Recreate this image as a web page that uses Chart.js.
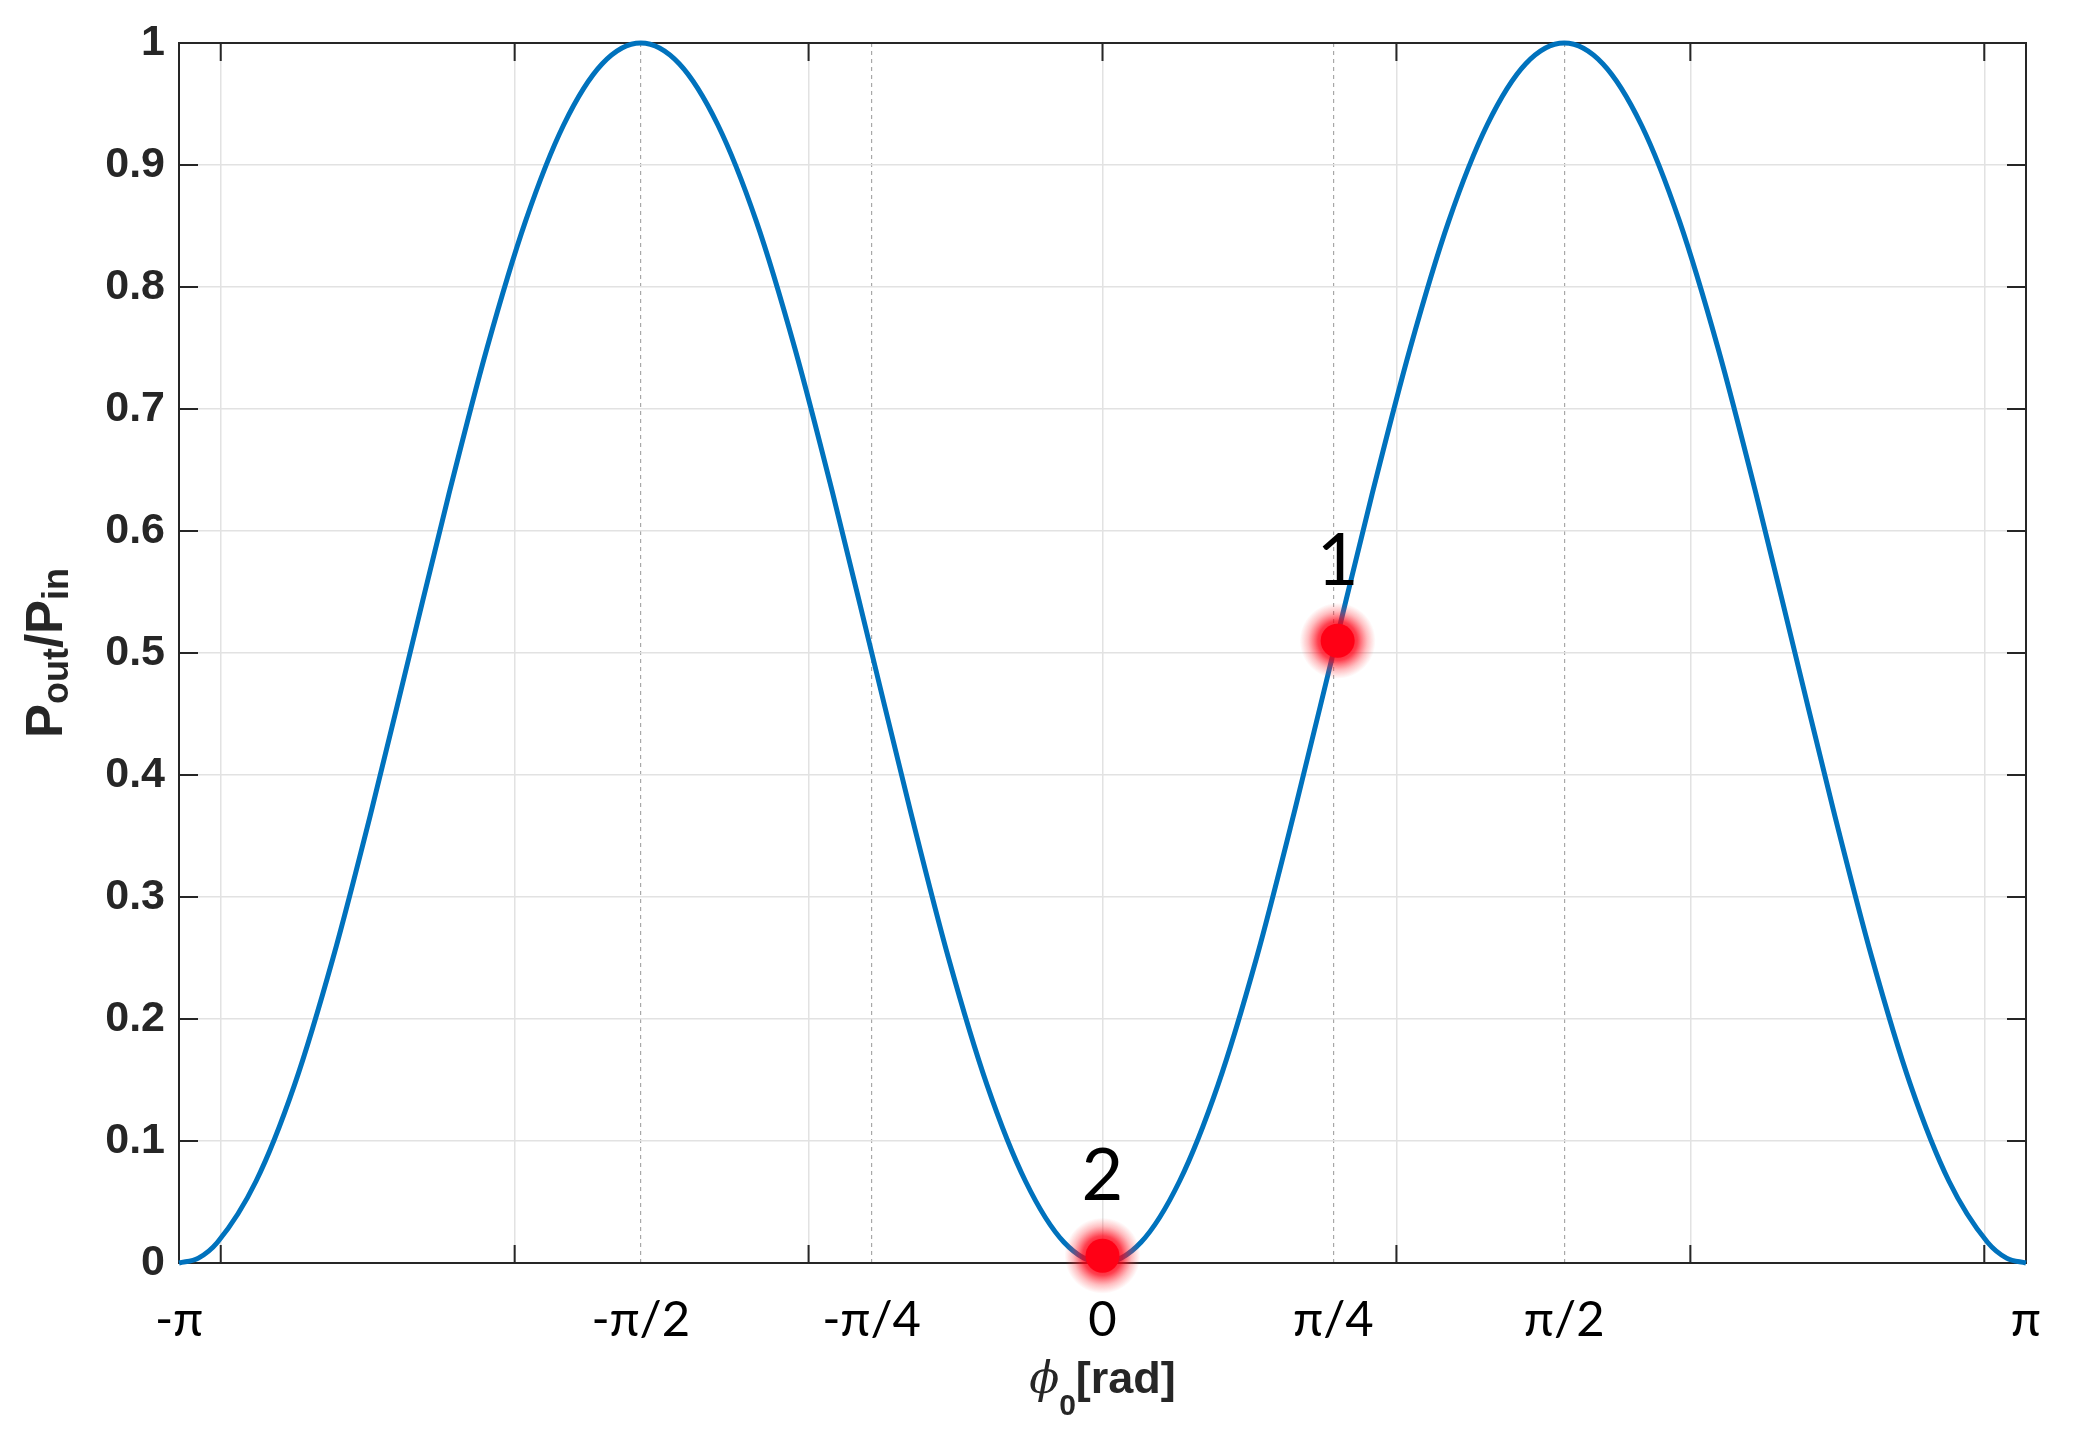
<!DOCTYPE html>
<html>
<head>
<meta charset="utf-8">
<title>Pout/Pin vs phase</title>
<script src="https://cdn.jsdelivr.net/npm/chart.js@4.4.1/dist/chart.umd.min.js"></script>
<style>
  html, body { margin: 0; padding: 0; background: #fff; }
  #wrap { width: 2076px; height: 1436px; }
</style>
</head>
<body>
<div id="wrap"><canvas id="phaseChart" width="2076" height="1436"></canvas></div>
<script>
// phase (rad) and the read-off transmission values
const phase = [
  -3.142, -3.076, -3.011, -2.880, -2.749, -2.618, -2.487, -2.356, -2.225, -2.094, -1.963, -1.833, -1.702,
  -1.571, -1.440, -1.309, -1.178, -1.047, -0.916, -0.785, -0.654, -0.524, -0.393, -0.262, -0.131,
  0,
  0.131, 0.262, 0.393, 0.524, 0.654, 0.785, 0.916, 1.047, 1.178, 1.309, 1.440,
  1.571, 1.702, 1.833, 1.963, 2.094, 2.225, 2.356, 2.487, 2.618, 2.749, 2.880, 3.011, 3.076, 3.142
]
const powerRatio = [
  0, 0.004, 0.017, 0.067, 0.146, 0.25, 0.371, 0.50, 0.629, 0.75, 0.854, 0.933, 0.983,
  1.00, 0.983, 0.933, 0.854, 0.75, 0.629, 0.50, 0.371, 0.25, 0.146, 0.067, 0.017,
  0,
  0.017, 0.067, 0.146, 0.25, 0.371, 0.50, 0.629, 0.75, 0.854, 0.933, 0.983,
  1.00, 0.983, 0.933, 0.854, 0.75, 0.629, 0.50, 0.371, 0.25, 0.146, 0.067, 0.017, 0.004, 0
]

// operating points
const markerPhase = [0.80, 0]
const markerRatio = [0.51, 0.006]
const markerLabels = ["1", "2"]

// axis ticks
const gridTicks = [-3, -2, -1, 0, 1, 2, 3]
const piTickValues = [-3.1416, -1.5708, -0.7854, 0, 0.7854, 1.5708, 3.1416]
const piTickLabels = ["-\u03C0", "-\u03C0/2", "-\u03C0/4", "0", "\u03C0/4", "\u03C0/2", "\u03C0"]
const piDashed = [false, true, true, false, true, true, false]

const AXIS_COLOR = "#262626"
const GRID_COLOR = "#e2e2e2"
const SANS = "'Liberation Sans', Arial, sans-serif"

function drawRuns(ctx, runs, x, y){
  let total = 0
  runs.forEach(r => { ctx.font = r.font; total += ctx.measureText(r.text).width })
  let cx = x - total / 2
  runs.forEach(r => {
    ctx.font = r.font
    ctx.fillText(r.text, cx, y + (r.dy || 0))
    cx += ctx.measureText(r.text).width
  })
}

const framePlugin = {
  id: "frame",
  beforeDatasetsDraw(chart){
    const { ctx, chartArea: a, scales } = chart
    ctx.save()
    ctx.strokeStyle = AXIS_COLOR
    ctx.lineWidth = 2
    ctx.strokeRect(a.left, a.top, a.width, a.height)
    ctx.beginPath()
    scales.x.ticks.forEach(t => {
      const px = scales.x.getPixelForValue(t.value)
      ctx.moveTo(px, a.bottom); ctx.lineTo(px, a.bottom - 18)
      ctx.moveTo(px, a.top); ctx.lineTo(px, a.top + 18)
    })
    scales.y.ticks.forEach(t => {
      const py = scales.y.getPixelForValue(t.value)
      ctx.moveTo(a.left, py); ctx.lineTo(a.left + 19, py)
      ctx.moveTo(a.right, py); ctx.lineTo(a.right - 19, py)
    })
    ctx.stroke()
    ctx.restore()
  }
}

// soft red halo under each operating point
const glowPlugin = {
  id: "glow",
  beforeDatasetDraw(chart, args){
    if(args.index !== 0){
      return
    }
    const ctx = chart.ctx
    ctx.save()
    args.meta.data.forEach(pt => {
      const g = ctx.createRadialGradient(pt.x, pt.y, 10, pt.x, pt.y, 38)
      g.addColorStop(0, "rgba(255,0,20,0.95)")
      g.addColorStop(0.35, "rgba(255,0,20,0.75)")
      g.addColorStop(0.7, "rgba(255,40,50,0.3)")
      g.addColorStop(1, "rgba(255,60,60,0)")
      ctx.fillStyle = g
      ctx.beginPath()
      ctx.arc(pt.x, pt.y, 38, 0, Math.PI * 2)
      ctx.fill()
    })
    ctx.restore()
  }
}

const labelPlugin = {
  id: "labels",
  afterDraw(chart){
    const { ctx, chartArea: a } = chart
    ctx.save()

    // point numbers
    ctx.fillStyle = "#000"
    ctx.textAlign = "center"
    ctx.textBaseline = "alphabetic"
    ctx.font = "72px Lato, 'Open Sans', sans-serif"
    chart.getDatasetMeta(0).data.forEach((pt, i) => {
      ctx.fillText(markerLabels[i], pt.x, pt.y - 56)
    })

    ctx.textAlign = "left"
    ctx.fillStyle = AXIS_COLOR

    // x title
    drawRuns(ctx, [
      { text: "\u03D5", font: "italic 44px 'DejaVu Serif', serif" },
      { text: "0", font: `bold 30px ${SANS}`, dy: 22 },
      { text: "[rad]", font: `bold 45px ${SANS}` }
    ], (a.left + a.right) / 2, a.bottom + 130)

    // y title
    ctx.translate(62, (a.top + a.bottom) / 2)
    ctx.rotate(-Math.PI / 2)
    drawRuns(ctx, [
      { text: "P", font: `bold 51px ${SANS}` },
      { text: "out", font: `bold 36px ${SANS}`, dy: 6 },
      { text: "/P", font: `bold 51px ${SANS}` },
      { text: "in", font: `bold 36px ${SANS}`, dy: 6 }
    ], 0, 0)

    ctx.restore()
  }
}

new Chart(document.getElementById("phaseChart"), {
  type: "scatter",
  data: {
    datasets: [
      {
        label: "points",
        data: markerPhase.map((x, i) => ({ x, y: markerRatio[i] })),
        pointRadius: 17,
        pointHoverRadius: 17,
        pointBackgroundColor: "#ff0015",
        pointBorderWidth: 0,
        clip: false
      },
      {
        label: "Pout/Pin",
        data: phase.map((x, i) => ({ x, y: powerRatio[i] })),
        showLine: true,
        borderColor: "#0072BD",
        borderWidth: 5,
        pointRadius: 0,
        cubicInterpolationMode: "monotone",
        clip: false
      }
    ]
  },
  options: {
    responsive: false,
    animation: false,
    devicePixelRatio: 1,
    layout: { padding: { top: 43, right: 50, left: 0, bottom: 0 } },
    plugins: {
      legend: { display: false },
      tooltip: { enabled: false }
    },
    scales: {
      x: {
        type: "linear",
        position: "bottom",
        min: phase[0],
        max: phase[phase.length - 1],
        afterBuildTicks: scale => { scale.ticks = gridTicks.map(v => ({ value: v })) },
        afterFit: scale => { scale.height = 0 },
        ticks: { display: false },
        grid: { color: GRID_COLOR, lineWidth: 1.5, drawTicks: false },
        border: { display: false }
      },
      x2: {
        type: "linear",
        position: "bottom",
        min: phase[0],
        max: phase[phase.length - 1],
        afterBuildTicks: scale => { scale.ticks = piTickValues.map(v => ({ value: v })) },
        afterFit: scale => { scale.height = 173 },
        ticks: {
          autoSkip: false,
          maxRotation: 0,
          padding: 28,
          color: "#000",
          font: { family: "Lato, 'Open Sans', sans-serif", size: 49 },
          callback: (value, index) => piTickLabels[index]
        },
        grid: {
          color: c => piDashed[c.index] ? "#a8a8a8" : "rgba(0,0,0,0)",
          lineWidth: 1.2,
          drawTicks: false
        },
        border: { display: false, dash: [4, 4] }
      },
      y: {
        min: 0,
        max: 1,
        afterFit: scale => { scale.width = 179 },
        ticks: {
          stepSize: 0.1,
          padding: 14,
          color: AXIS_COLOR,
          font: { family: SANS, size: 43, weight: "bold" },
          callback: value => String(Number(value.toFixed(1)))
        },
        grid: { color: GRID_COLOR, lineWidth: 1.5, drawTicks: false },
        border: { display: false }
      }
    }
  },
  plugins: [framePlugin, glowPlugin, labelPlugin]
})
</script>
</body>
</html>
